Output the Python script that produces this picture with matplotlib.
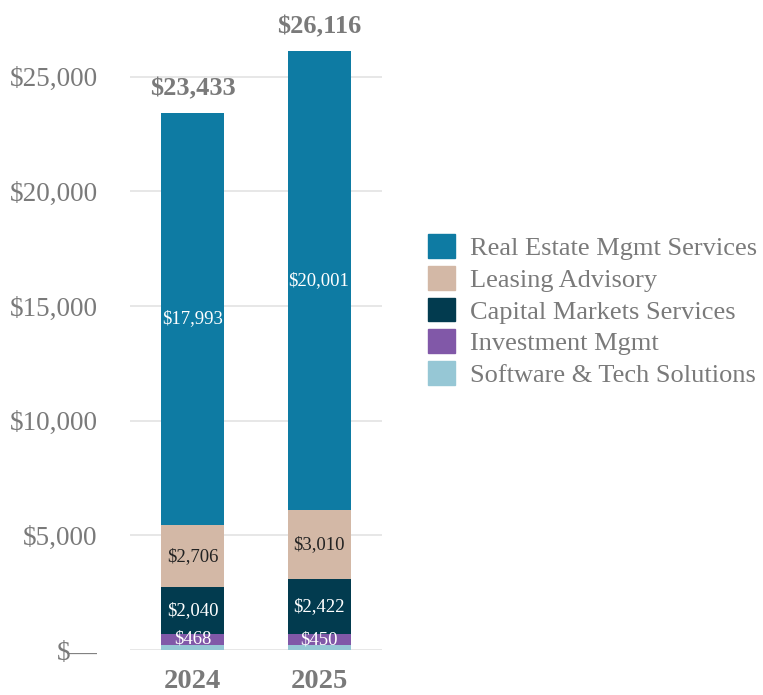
import matplotlib.pyplot as plt
from matplotlib.patches import Patch

years = ["2024", "2025"]
segments = ["Real Estate Mgmt Services", "Leasing Advisory", "Capital Markets Services",
            "Investment Mgmt", "Software & Tech Solutions"]
software = [226, 233]
investment = [468, 450]
capital = [2040, 2422]
leasing = [2706, 3010]
real_estate = [17993, 20001]
totals = [23433, 26116]
yticks = [0, 5000, 10000, 15000, 20000, 25000]
ytick_labels = ["$\u2014", "$5,000", "$10,000", "$15,000", "$20,000", "$25,000"]

colors = {
    "Real Estate Mgmt Services": "#0E7BA3",
    "Leasing Advisory": "#D3B8A6",
    "Capital Markets Services": "#023B4F",
    "Investment Mgmt": "#8158A8",
    "Software & Tech Solutions": "#96C7D5",
}
gray = "#7A7A7A"

plt.rcParams['font.family'] = ['Liberation Serif', 'DejaVu Serif']

fig = plt.figure(figsize=(7.63, 6.95), dpi=100)
ax = fig.add_axes([0.170, 0.0647, 0.331, 0.8907])

x = list(range(len(years)))
width = 0.5
stack = [
    ("Software & Tech Solutions", software, None),
    ("Investment Mgmt", investment, "white"),
    ("Capital Markets Services", capital, "white"),
    ("Leasing Advisory", leasing, "#222222"),
    ("Real Estate Mgmt Services", real_estate, "white"),
]
bottom = [0, 0]
for name, vals, tcol in stack:
    ax.bar(x, vals, width, bottom=bottom, color=colors[name], zorder=2)
    if tcol is not None:
        for i, v in enumerate(vals):
            ax.text(x[i], bottom[i] + v / 2, "${:,}".format(v), ha='center', va='center',
                    color=tcol, fontsize=13.5, zorder=3)
    bottom = [b + v for b, v in zip(bottom, vals)]

for i, t in enumerate(totals):
    ax.text(x[i], t + 550, "${:,}".format(t), ha='center', va='bottom',
            color=gray, fontsize=19, fontweight='bold')

ax.set_xlim(-0.5, 1.5)
ax.set_ylim(0, 27000)
ax.set_yticks(yticks)
ax.set_yticklabels(ytick_labels, fontsize=19.5, color=gray)
ax.set_xticks(x)
ax.set_xticklabels(years, fontsize=20.5, fontweight='bold', color=gray)
ax.tick_params(length=0, axis='y', pad=23)
ax.tick_params(length=0, axis='x', pad=14)
ax.grid(axis='y', color='#E3E3E3', linewidth=1.2, zorder=0)
for s in ax.spines.values():
    s.set_visible(False)

handles = [Patch(color=colors[s]) for s in segments]
fig.legend(handles, segments, loc='center left', bbox_to_anchor=(0.530, 0.553),
           frameon=False, fontsize=19, labelcolor=gray, handlelength=1.0,
           handleheight=1.0, handletextpad=0.57, labelspacing=0.22)

fig.savefig("out.png", dpi=100)
